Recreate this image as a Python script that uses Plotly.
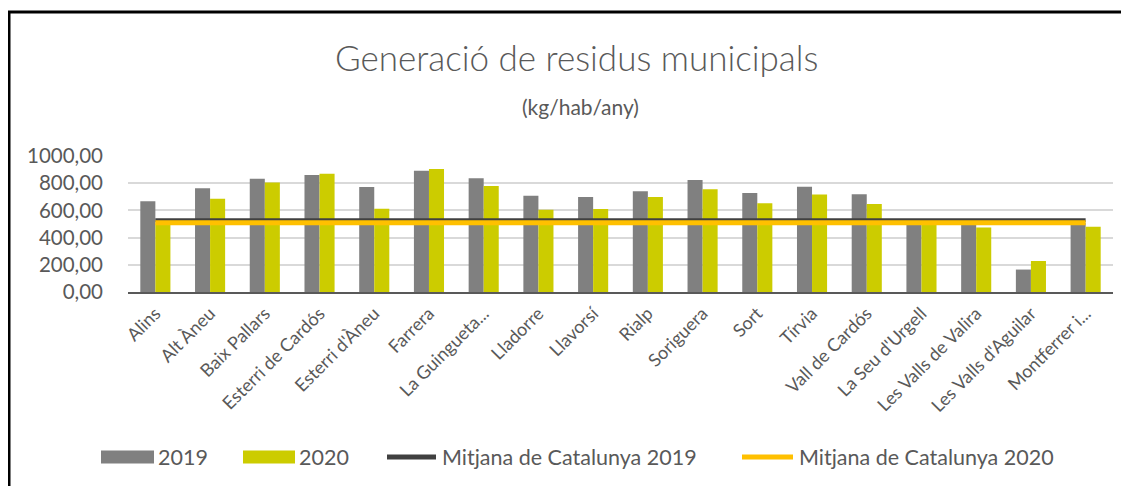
import plotly.graph_objects as go

categories = ["Alins", "Alt Àneu", "Baix Pallars", "Esterri de Cardós", "Esterri d'Àneu",
              "Farrera", "La Guingueta...", "Lladorre", "Llavorsí", "Rialp", "Soriguera",
              "Sort", "Tírvia", "Vall de Cardós", "La Seu d'Urgell", "Les Valls de Valira",
              "Les Valls d'Aguilar", "Montferrer i..."]
values_2019 = [667, 762, 833, 860, 772, 892, 836, 708, 698, 740, 824, 728, 774, 718, 508, 498, 165, 508]
values_2020 = [505, 686, 806, 870, 613, 904, 779, 605, 610, 698, 755, 652, 716, 647, 505, 475, 228, 479]
mean_cat_2019 = 527
mean_cat_2020 = 509
y_ticks = [0, 200, 400, 600, 800, 1000]
series_names = ["2019", "2020", "Mitjana de Catalunya 2019", "Mitjana de Catalunya 2020"]
series_colors = ["#808080", "#CCCC00", "#404040", "#FFC000"]

FONT = "Lato, 'Open Sans', sans-serif"
TXT = "#595959"

fig = go.Figure()
fig.add_trace(go.Bar(x=categories, y=values_2019, name=series_names[0],
                     marker=dict(color=series_colors[0], line=dict(width=0))))
fig.add_trace(go.Bar(x=categories, y=values_2020, name=series_names[1],
                     marker=dict(color=series_colors[1], line=dict(width=0))))
fig.add_trace(go.Scatter(x=categories, y=[mean_cat_2019] * len(categories),
                         mode="lines", name=series_names[2],
                         line=dict(color=series_colors[2], width=4)))
fig.add_trace(go.Scatter(x=categories, y=[mean_cat_2020] * len(categories),
                         mode="lines", name=series_names[3],
                         line=dict(color=series_colors[3], width=5)))

# page body has an 8px margin: work in reference-pixel coordinates, shifted
OFF = 8
W, H = 1129 - OFF, 486 - OFF
plot_left, plot_right, plot_top, plot_bottom = 128 - OFF, 1113 - OFF, 156 - OFF, 292 - OFF
L, R, T, B = plot_left, W - plot_right, plot_top, H - plot_bottom
pw, ph = plot_right - plot_left, plot_bottom - plot_top

def px(x):
    return (x - OFF - plot_left) / pw

def py(y):
    return (plot_bottom - (y - OFF)) / ph

annotations = [
    dict(text="Generació de residus municipals", x=px(576), y=py(57), xref="paper", yref="paper",
         showarrow=False, font=dict(size=35, color=TXT, family=FONT, weight=300),
         xanchor="center", yanchor="middle"),
    dict(text="(kg/hab/any)", x=px(580), y=py(106), xref="paper", yref="paper",
         showarrow=False, font=dict(size=21, color=TXT, family=FONT),
         xanchor="center", yanchor="middle"),
]
shapes = [
    dict(type="rect", xref="paper", yref="paper", x0=px(9), x1=px(1150), y0=py(520), y1=py(12),
         line=dict(color="black", width=3), layer="above"),
]

# manual legend (wide swatches as in the reference)
leg_y = 457
leg_items = [  # (symbol start, symbol end, kind)
    (101, 154, "box"), (243, 295, "box"), (385, 438, "line"), (740, 795, "line")]
for (x0, x1, kind), name, col in zip(leg_items, series_names, series_colors):
    if kind == "box":
        shapes.append(dict(type="rect", xref="paper", yref="paper", x0=px(x0), x1=px(x1),
                           y0=py(leg_y + 6.5), y1=py(leg_y - 6.5), fillcolor=col,
                           line=dict(width=0)))
    else:
        shapes.append(dict(type="line", xref="paper", yref="paper", x0=px(x0 + 2), x1=px(x1 - 2),
                           y0=py(leg_y), y1=py(leg_y), line=dict(color=col, width=5)))
    annotations.append(dict(text=name, x=px(x1 + 2), y=py(leg_y), xref="paper", yref="paper",
                            showarrow=False, xanchor="left", yanchor="middle",
                            font=dict(size=21.5, color=TXT, family=FONT)))

fig.update_layout(
    width=W, height=H,
    margin=dict(l=L, r=R, t=T, b=B, autoexpand=False),
    paper_bgcolor="white", plot_bgcolor="white",
    font=dict(family=FONT, color=TXT),
    separators=",.",
    barmode="group", bargap=0.45, bargroupgap=0,
    showlegend=False,
    xaxis=dict(type="category", tickangle=-45, tickfont=dict(size=18, color=TXT, family=FONT),
               showline=True, linecolor="#595959", linewidth=2, showgrid=False,
               ticks="", ticklabelstandoff=2),
    yaxis=dict(range=[0, 1000], tickvals=y_ticks, tickformat=".2f",
               tickfont=dict(size=20.5, color=TXT, family=FONT),
               showgrid=True, gridcolor="#D9D9D9", gridwidth=2, zeroline=False,
               showline=False, ticks="", ticklabelstandoff=24),
    annotations=annotations,
    shapes=shapes,
)

fig.write_html("out.html")
